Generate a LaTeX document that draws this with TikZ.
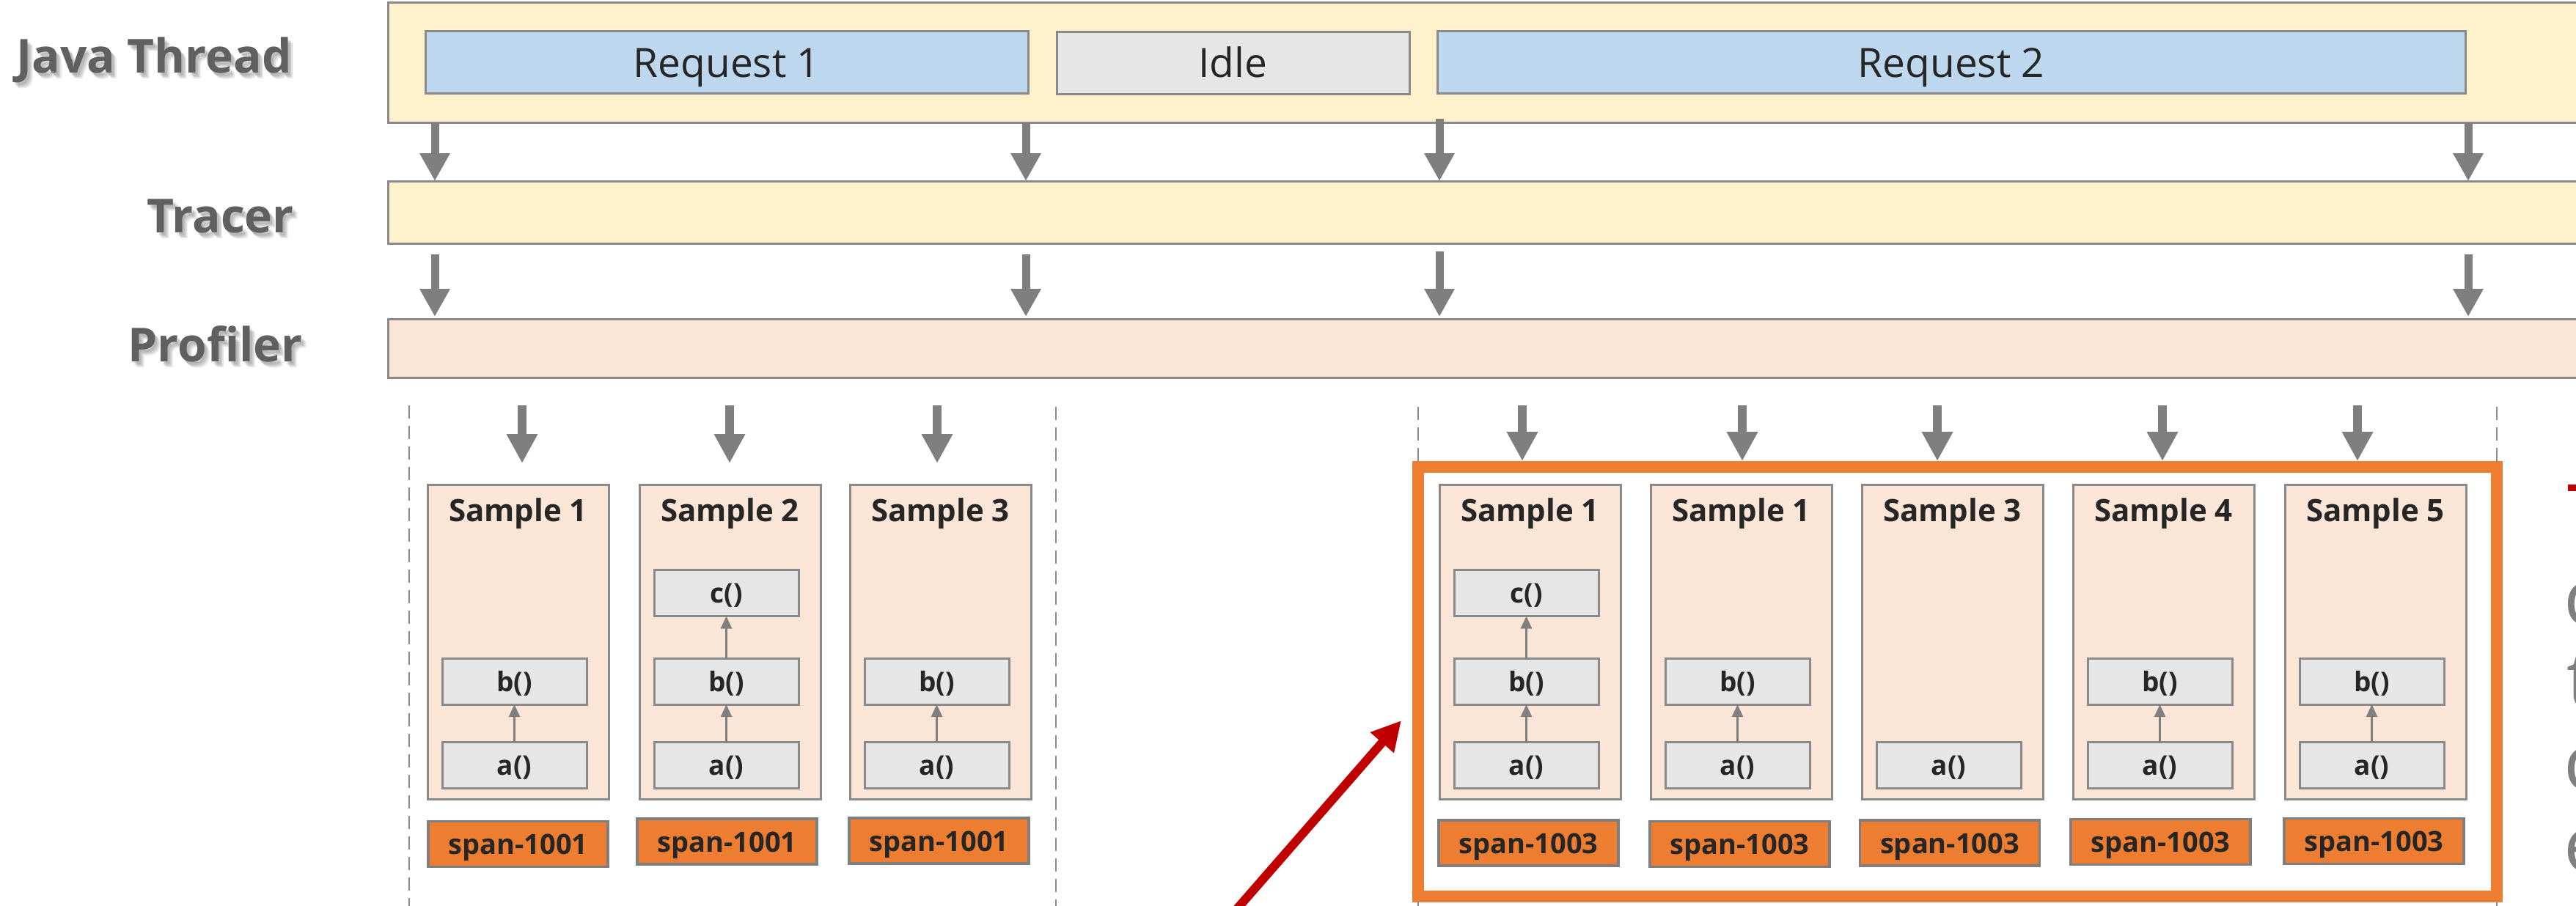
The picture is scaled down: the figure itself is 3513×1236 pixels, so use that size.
\documentclass[tikz,border=0pt]{standalone}
\usepackage{fontspec}
\setmainfont{Open Sans}
\usetikzlibrary{arrows.meta}

\definecolor{laneyellow}{HTML}{FFF2CC}
\definecolor{lanepeach}{HTML}{FBE5D6}
\definecolor{reqblue}{HTML}{BDD7EE}
\definecolor{idlegray}{HTML}{E6E6E6}
\definecolor{spanorange}{HTML}{ED7D31}
\definecolor{edgegray}{HTML}{8A8A8A}
\definecolor{arrowgray}{HTML}{7F7F7F}
\definecolor{labelgray}{HTML}{606060}
\definecolor{inkdark}{HTML}{262626}
\definecolor{pointerred}{HTML}{C00000}

\begin{document}
\begin{tikzpicture}[x=1pt,y=-1pt,
  box/.style={draw=edgegray, line width=3pt, rectangle, inner sep=0pt, outer sep=0pt},
  lane/.style={box, minimum width=3071pt},
  reqbox/.style={box, fill=reqblue, minimum height=85pt, text=inkdark,
    text height=40pt, text depth=0pt, font=\fontsize{55}{60}\selectfont},
  idlebox/.style={box, fill=idlegray, minimum height=85pt, text=inkdark,
    text height=40pt, text depth=0pt, font=\fontsize{55}{60}\selectfont},
  lanelabel/.style={anchor=base east, inner sep=0pt, text=labelgray,
    font=\bfseries\fontsize{64}{70}\selectfont},
  labelshadow/.style={lanelabel, text=black, opacity=0.10},
  bigarrow/.style={draw=arrowgray, line width=11pt,
    -{Triangle[length=38pt,width=39pt]}},
  samplebox/.style={box, fill=lanepeach, minimum width=247pt, minimum height=429pt},
  sampletitle/.style={anchor=base, inner sep=0pt, text=inkdark,
    font=\bfseries\fontsize{42}{46}\selectfont},
  framebox/.style={box, fill=idlegray, minimum width=197pt, minimum height=63pt,
    text=inkdark, text height=27pt, text depth=0pt,
    font=\bfseries\fontsize{37}{40}\selectfont},
  callarrow/.style={draw=arrowgray, line width=2.5pt,
    -{Triangle[length=17pt,width=15pt]}},
  spanbox/.style={box, draw=arrowgray, line width=3.5pt, fill=spanorange,
    minimum width=245pt, minimum height=62pt, text=inkdark,
    text height=28pt, text depth=0pt,
    font=\bfseries\fontsize{38}{40}\selectfont},
  divider/.style={draw=edgegray, line width=2.5pt, dash pattern=on 18pt off 10pt},
  highlight/.style={draw=spanorange, line width=16pt, rectangle, inner sep=0pt,
    outer sep=0pt, minimum width=1471pt, minimum height=586pt},
  redpointer/.style={draw=pointerred, line width=12pt,
    -{Triangle[length=40pt,width=40pt]}},
  edgeletter/.style={anchor=base west, inner sep=0pt, text=arrowgray,
    font=\fontsize{106}{110}\selectfont}
]

\useasboundingbox (0,0) rectangle (3513,1236);
\clip (0,0) rectangle (3513,1236);
\fill[white] (0,0) rectangle (3513,1236);

% ---------- lanes ----------
\node[lane, fill=laneyellow, minimum height=164pt] (java) at (2064.5,86) {};
\node[lane, fill=laneyellow, minimum height=85pt] (tracer) at (2064.5,289.5) {};
\node[lane, fill=lanepeach, minimum height=80pt] (prof) at (2064.5,475) {};

\node[reqbox, minimum width=822pt] (req1) at (991,85.5) {Request 1};
\node[idlebox, minimum width=481pt] (idle) at (1681.5,86) {Idle};
\node[reqbox, minimum width=1402pt] (req2) at (2661,85.5) {Request 2};

% ---------- lane labels with soft shadow ----------
\foreach \d/\e [count=\k] in {3/4,5/6,7/8}{
  \node[labelshadow] (javash\k) at (398+\d,100+\e) {Java Thread};
  \node[labelshadow] (tracersh\k) at (401+\d,317+\e) {Tracer};
  \node[labelshadow] (profsh\k) at (413+\d,493+\e) {Profiler};
}
\node[lanelabel] (javalbl) at (398,100) {Java Thread};
\node[lanelabel] (tracerlbl) at (401,317) {Tracer};
\node[lanelabel] (proflbl) at (413,493) {Profiler};

% ---------- events passed down the lanes ----------
\foreach \x in {593,1399,3366}{
  \draw[bigarrow] (\x,0 |- java.south) -- (\x,0 |- tracer.north);
  \draw[bigarrow] ([yshift=-15pt]\x,0 |- tracer.south) -- ([yshift=3pt]\x,0 |- prof.north);
}
\draw[bigarrow] ([yshift=6pt]1963,0 |- java.south) -- (1963,0 |- tracer.north);
\draw[bigarrow] ([yshift=-11pt]1963,0 |- tracer.south) -- ([yshift=3pt]1963,0 |- prof.north);

% ---------- group separators ----------
\draw[divider] (558,553) -- (558,1240);
\draw[divider] (1440,555) -- (1440,1240);
\draw[divider] (1934,555) -- (1934,1240);
\draw[divider] (3405,555) -- (3405,1240);

% ---------- highlighted group ----------
\node[highlight] (hl) at (2669.5,930) {};

% ---------- samples ----------
\foreach \n/\cx/\lbl in {L1/706.5/Sample 1, L2/995.5/Sample 2, L3/1282.5/Sample 3,
    R1/2086.5/Sample 1, R2/2374.5/Sample 1, R3/2662.5/Sample 3,
    R4/2950.5/Sample 4, R5/3239.5/Sample 5}{
  \node[samplebox] (\n) at (\cx,875.5) {};
  \node[sampletitle] (\n-title) at (\cx,711) {\lbl};
  \node[framebox] (\n-a) at (\cx-5,1044) {a()};
}
\foreach \n/\cx in {L1/706.5, L2/995.5, L3/1282.5, R1/2086.5, R2/2374.5,
    R4/2950.5, R5/3239.5}{
  \node[framebox] (\n-b) at (\cx-5,929.5) {b()};
  \draw[callarrow] (\n-a) -- (\n-b);
}
\foreach \n/\cx in {L2/995.5, R1/2086.5}{
  \node[framebox] (\n-c) at (\cx-5,809) {c()};
  \draw[callarrow] (\n-b) -- (\n-c);
}

% ---------- span tags ----------
\foreach \n/\cx/\cy/\id in {L1/706.5/1151.5/1001, L2/991.5/1148/1001, L3/1280.5/1147/1001,
    R1/2084.5/1150/1003, R2/2372.5/1151.5/1003, R3/2659/1150/1003,
    R4/2946.5/1148.5/1003, R5/3237.5/1147.5/1003}{
  \node[spanbox] (\n-span) at (\cx,\cy) {span-\id};
}

% ---------- sampling ticks from the profiler ----------
\foreach \x in {712,995,1278}{
  \draw[bigarrow, line width=12pt, -{Triangle[length=40pt,width=40pt]}]
    ([yshift=-38pt]\x,0 |- prof.south) -- ([yshift=29pt]\x,0 |- L1.north);
}
\foreach \x in {2076,2376,2642,2949,3215}{
  \draw[bigarrow, line width=12pt, -{Triangle[length=40pt,width=40pt]}]
    ([yshift=-38pt]\x,0 |- prof.south) -- ([yshift=8pt]\x,0 |- hl.north);
}

% ---------- pointer ----------
\coordinate (pointertail) at (1652,1280);
\coordinate (pointertip) at (1911,983);
\draw[redpointer] (pointertail) -- (pointertip);

% ---------- text running off the right edge ----------
\fill[pointerred] (3502,661) rectangle (3530,670);
\node[edgeletter] (cut1) at (3496,852) {c};
\node[edgeletter] (cut2) at (3500,964) {t};
\node[edgeletter] (cut3) at (3496,1077) {c};
\node[edgeletter] (cut4) at (3496,1189) {e};

\end{tikzpicture}
\end{document}
